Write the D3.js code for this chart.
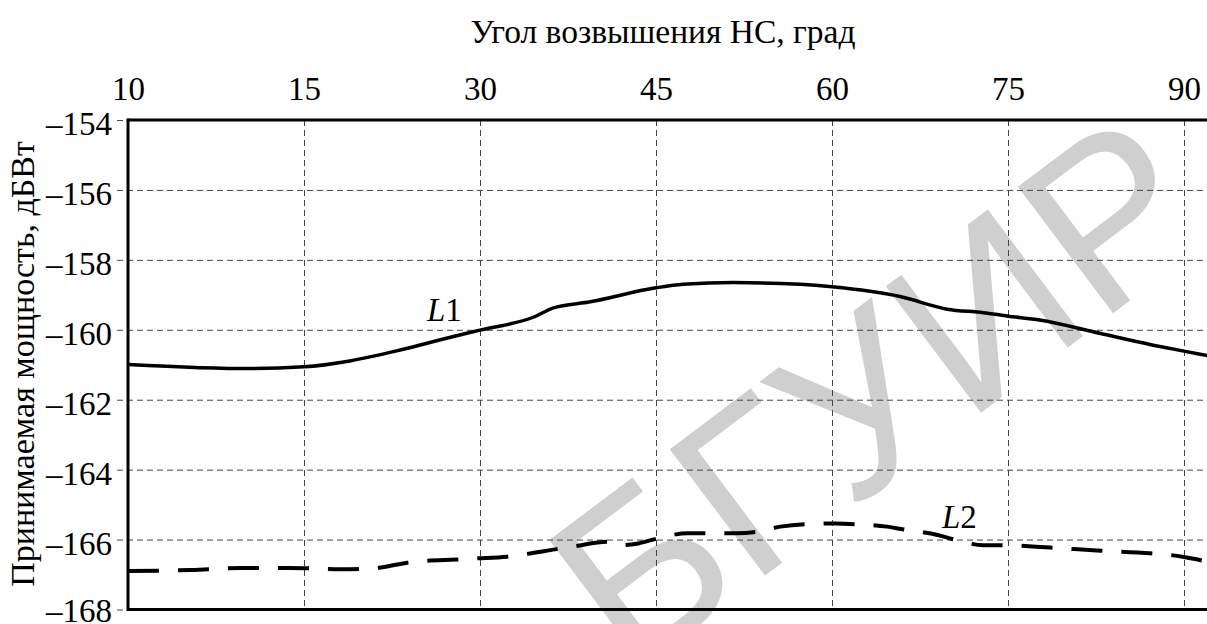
<!DOCTYPE html>
<html>
<head>
<meta charset="utf-8">
<script src="https://cdn.jsdelivr.net/npm/d3@7"></script>
<style>
  html, body { margin: 0; padding: 0; background: #fff; }
  svg { display: block; }
</style>
</head>
<body>
<script>
// Elevation angle ticks (deg) and received power ticks (dBW)
const angleTicks = [10, 15, 30, 45, 60, 75, 90];
const powerTicks = [-154, -156, -158, -160, -162, -164, -166, -168];

// Curve L1 (solid)
const l1Angle = [10, 13.5, 15, 18.9, 23.2, 27.4, 30, 34.7, 36.2, 39.4, 45, 47.3, 51.6, 57.3, 60, 65.8, 69.8, 72.9, 75, 77.7, 82.8, 87.1, 90, 92];
const l1Power = [-160.99, -161.11, -161.06, -160.89, -160.58, -160.22, -160.01, -159.62, -159.38, -159.20, -158.80, -158.70, -158.65, -158.70, -158.77, -159.05, -159.41, -159.51, -159.61, -159.72, -160.10, -160.42, -160.61, -160.74];

// Curve L2 (dashed)
const l2Angle = [10, 11.8, 13.2, 14.6, 18.1, 21.0, 23.8, 25.3, 28.0, 29.6, 32.3, 33.8, 36.4, 38.1, 40.8, 42.1, 43.5, 45.1, 47.7, 51.9, 53.6, 55.6, 57.7, 60.3, 62.0, 64.7, 66.1, 69.0, 70.3, 72.9, 74.6, 78.6, 82.9, 87.1, 88.8, 90, 92];
const l2Power = [-166.90, -166.87, -166.81, -166.81, -166.85, -166.82, -166.66, -166.61, -166.57, -166.54, -166.49, -166.42, -166.28, -166.19, -166.06, -166.16, -166.11, -165.97, -165.82, -165.82, -165.78, -165.63, -165.56, -165.54, -165.56, -165.63, -165.71, -165.87, -165.99, -166.16, -166.16, -166.23, -166.32, -166.39, -166.44, -166.50, -166.63];

const W = 1207, H = 624;
const plotLeft = 128, plotTop = 120, plotBottom = 609.5, step = 176;
const serif = "'Liberation Serif', 'Times New Roman', serif";
const fs = 33;

const svg = d3.select("body").append("svg")
  .attr("width", W).attr("height", H)
  .style("background", "#fff");

// Angle axis: ticks equally spaced, piecewise linear between them
const x = d3.scaleLinear()
  .domain(angleTicks)
  .range(angleTicks.map((d, i) => plotLeft + i * step));
const y = d3.scaleLinear().domain([-154, -168]).range([plotTop, plotBottom]);

// Watermark
svg.append("text")
  .attr("transform", "translate(925,455) rotate(-37)")
  .attr("text-anchor", "middle")
  .attr("font-family", "'Liberation Sans', Arial, sans-serif")
  .attr("font-size", 230)
  .attr("fill", "#cfcfcf")
  .text("БГУИР");

const fmt = d => d3.format("d")(d).replace("\u2212", "\u2013");

// Horizontal grid + power labels
const gy = svg.append("g")
  .attr("transform", `translate(${plotLeft - 11},0)`)
  .call(d3.axisLeft(y).tickValues(powerTicks).tickSize(-(W - plotLeft + 11)).tickPadding(5).tickFormat(fmt));
gy.select(".domain").remove();
gy.selectAll(".tick line")
  .attr("stroke", "#444").attr("stroke-width", 1).attr("stroke-dasharray", "6,4");
gy.selectAll(".tick text")
  .attr("font-family", serif).attr("font-size", fs).attr("fill", "#000")
  .attr("dy", d => d === -168 ? "0.37em" : "0.45em");

// Vertical grid + angle labels
const gx = svg.append("g")
  .attr("transform", `translate(0,${plotTop})`)
  .call(d3.axisTop(x).tickValues(angleTicks).tickSize(-(plotBottom - plotTop)).tickPadding(20).tickFormat(d3.format("d")));
gx.select(".domain").remove();
gx.selectAll(".tick line")
  .attr("stroke", "#444").attr("stroke-width", 1).attr("stroke-dasharray", "6,4");
gx.selectAll(".tick text")
  .attr("font-family", serif).attr("font-size", fs).attr("fill", "#000");

// Frame
const frame = svg.append("g").attr("stroke", "#000").attr("stroke-width", 3).attr("fill", "none");
frame.append("line").attr("x1", plotLeft).attr("x2", plotLeft).attr("y1", plotTop - 1.5).attr("y2", plotBottom + 1.5);
frame.append("line").attr("x1", plotLeft).attr("x2", W).attr("y1", plotTop).attr("y2", plotTop);
frame.append("line").attr("x1", plotLeft).attr("x2", W).attr("y1", plotBottom).attr("y2", plotBottom);

// Curves
const line = d3.line()
  .x(d => x(d[0]))
  .y(d => y(d[1]))
  .curve(d3.curveMonotoneX);

svg.append("path")
  .attr("d", line(d3.zip(l1Angle, l1Power)))
  .attr("fill", "none").attr("stroke", "#000").attr("stroke-width", 3.5);

svg.append("path")
  .attr("d", line(d3.zip(l2Angle, l2Power)))
  .attr("fill", "none").attr("stroke", "#000").attr("stroke-width", 4)
  .attr("stroke-dasharray", "31,19");

// Curve labels
function curveLabel(px, py, num) {
  const t = svg.append("text")
    .attr("x", px).attr("y", py)
    .attr("font-family", serif).attr("font-size", fs).attr("fill", "#000");
  t.append("tspan").attr("font-style", "italic").text("L");
  t.append("tspan").text(num);
}
curveLabel(427, 321, "1");
curveLabel(942, 528, "2");

// Axis titles
svg.append("text")
  .attr("x", 663).attr("y", 43)
  .attr("text-anchor", "middle")
  .attr("font-family", serif).attr("font-size", 33.5).attr("fill", "#000")
  .text("Угол возвышения НС, град");

svg.append("text")
  .attr("transform", "translate(34,364) rotate(-90)")
  .attr("text-anchor", "middle")
  .attr("font-family", serif).attr("font-size", 34).attr("fill", "#000")
  .text("Принимаемая мощность, дБВт");
</script>
</body>
</html>
